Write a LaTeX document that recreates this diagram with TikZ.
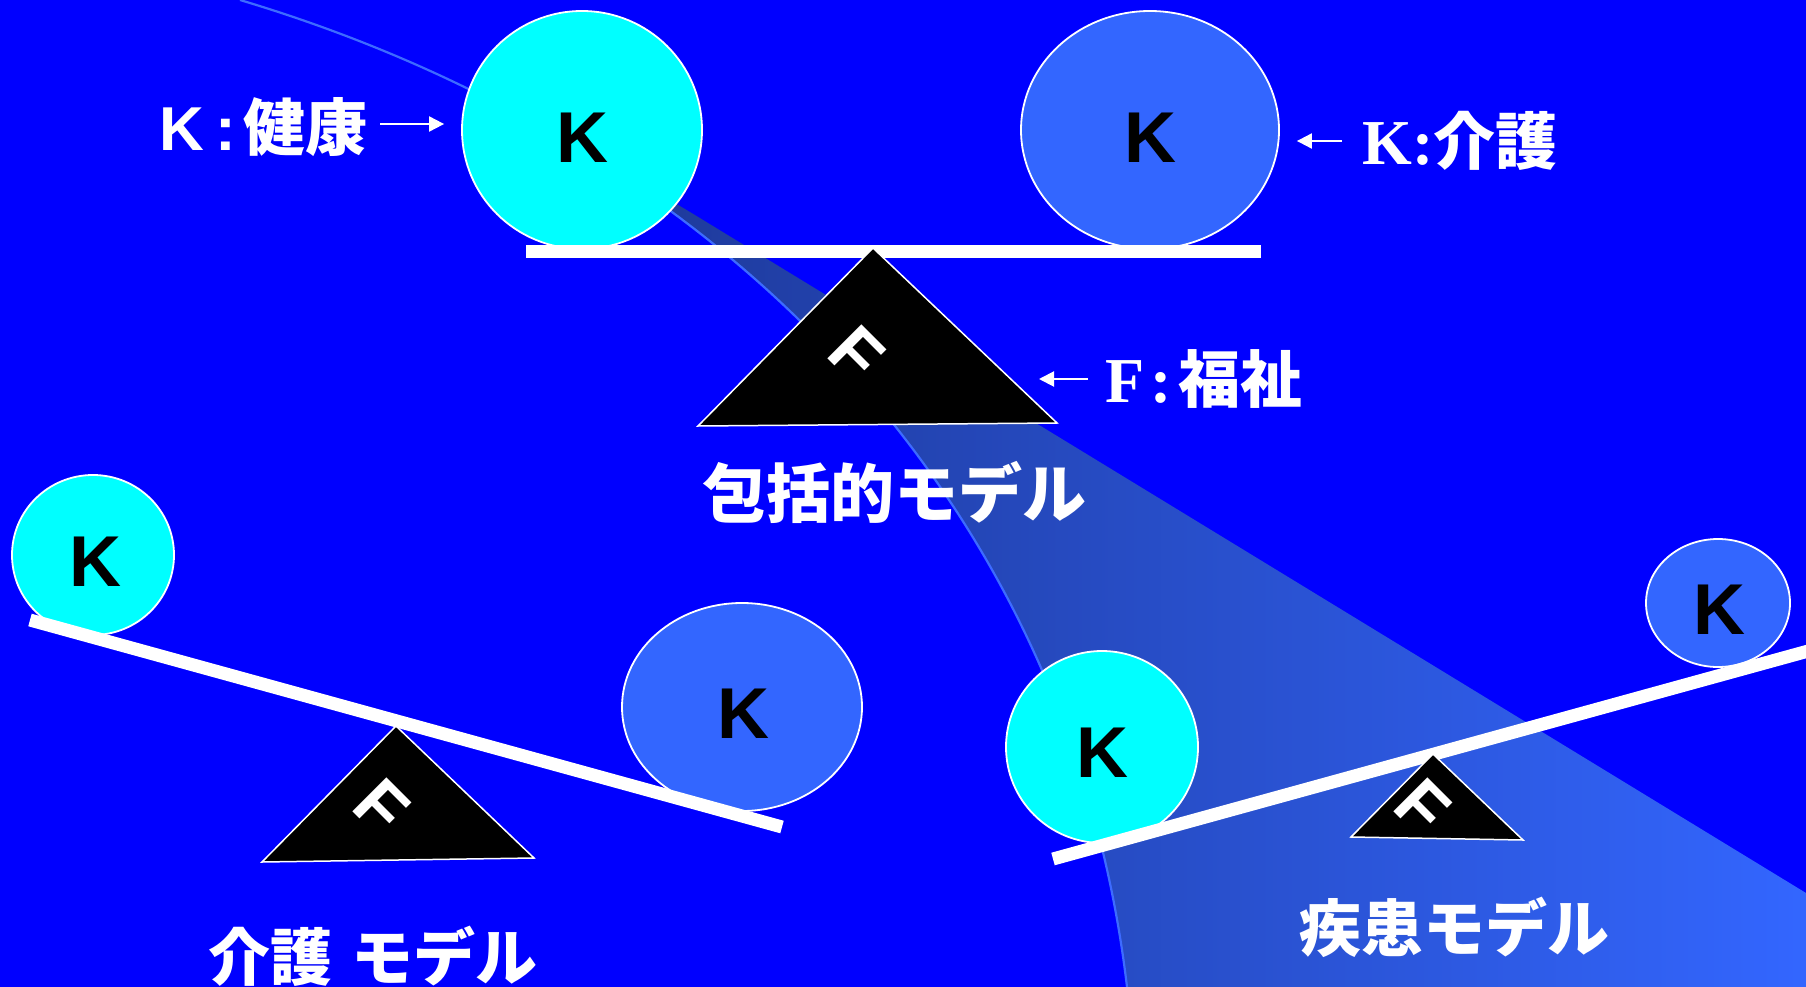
\documentclass[tikz,border=0pt]{standalone}
\usepackage{fontspec}
\setmainfont{Liberation Sans}
\newfontfamily\cjk{Noto Sans CJK JP}
\newfontfamily\serifb{Liberation Serif}
\usetikzlibrary{shapes.geometric,arrows.meta}
\definecolor{bgblue}{HTML}{0000FF}
\definecolor{ballcyan}{HTML}{00FFFF}
\definecolor{ballblue}{HTML}{3366FF}
\definecolor{bandL}{HTML}{1C3590}
\definecolor{bandR}{HTML}{3366FF}
\definecolor{swline}{HTML}{3D6BFF}
\begin{document}
\begin{tikzpicture}[x=1pt,y=-1pt,
  ball/.style={ellipse, draw=white, line width=1.8pt, inner sep=0pt},
  cyanball/.style={ball, fill=ballcyan},
  blueball/.style={ball, fill=ballblue},
  kletter/.style={inner sep=0pt, font=\fontsize{72}{80}\selectfont\bfseries, text=black},
  beam/.style={draw=white, line width=13pt},
  fulcrum/.style={fill=black, draw=white, line width=1.5pt, line join=miter},
  fletter/.style={inner sep=0pt, font=\fontsize{70}{80}\selectfont\bfseries, text=white, rotate=-45},
  lbl/.style={inner sep=0pt, text=white, font=\fontsize{62}{70}\selectfont\bfseries},
  model/.style={inner sep=0pt, text=white, font=\cjk\fontsize{62}{70}\selectfont\bfseries},
  arr/.style={draw=white, line width=2pt, -{Triangle[length=15pt,width=15pt]}}
]
\useasboundingbox (0,0) rectangle (1806,987);
\clip (0,0) rectangle (1806,987);
\fill[bgblue] (0,0) rectangle (1806,987);

% swoosh band
\shade[left color=bandL, right color=bandR]
  (514.2,112.4) .. controls (853.4,294.5) and (1081.4,601.4) .. (1127,987)
  -- (1806,987) -- (1806,893) -- (690,212) -- (560,135) -- cycle;
\draw[swline, line width=2.2pt]
  (240,0) .. controls (728,146) and (1070,505) .. (1127,987);

% balls
\node[cyanball, minimum width=240pt, minimum height=238pt] (c1) at (582,130) {};
\node[blueball, minimum width=258pt, minimum height=238pt] (c2) at (1150,130) {};
\node[cyanball, minimum width=162pt, minimum height=160pt] (c3) at (93,555) {};
\node[blueball, minimum width=240pt, minimum height=208pt] (c4) at (742,707) {};
\node[cyanball, minimum width=192pt, minimum height=192pt] (c5) at (1102,747) {};
\node[blueball, minimum width=144pt, minimum height=128pt] (c6) at (1718,603) {};
\node[kletter] (k1) at (582.5,137.5) {K};
\node[kletter] (k2) at (1150.5,137.5) {K};
\node[kletter] (k3) at (95,562) {K};
\node[kletter] (k4) at (743.5,714) {K};
\node[kletter] (k5) at (1102,753) {K};
\node[kletter] (k6) at (1719,609.5) {K};

% beams
\draw[beam] (526,251.5) -- (1261,251.5);
\draw[beam] (30,620) -- (782,827);
\draw[beam] (1053,859) -- (1830,645);

% fulcrums
\coordinate (t1a) at (873,248); \coordinate (t1l) at (698,426); \coordinate (t1r) at (1057,423);
\coordinate (t2a) at (396,726); \coordinate (t2l) at (262,862); \coordinate (t2r) at (534,858);
\coordinate (t3a) at (1433,754); \coordinate (t3l) at (1351,837); \coordinate (t3r) at (1523,840);
\filldraw[fulcrum] (t1a) -- (t1l) -- (t1r) -- cycle;
\filldraw[fulcrum] (t2a) -- (t2l) -- (t2r) -- cycle;
\filldraw[fulcrum] (t3a) -- (t3l) -- (t3r) -- cycle;
\node[fletter] (f1) at (856.5,354) {F};
\node[fletter] (f2) at (382,807) {F};
\node[fletter] (f3) at (1423,807) {F};

% labels
\node[lbl, anchor=west] (kl) at (159.5,127.5) {K\hspace{11pt}:\hspace{7pt}{\cjk\bfseries 健康}};
\node[lbl, anchor=west] (kr) at (1362,141) {{\serifb\bfseries\fontsize{64}{70}\selectfont K:}{\cjk\bfseries 介護}};
\node[lbl, anchor=west] (fl) at (1105,379) {{\serifb\bfseries\fontsize{64}{70}\selectfont F\hspace{6pt}:}\hspace{7pt}{\cjk\bfseries 福祉}};
\coordinate (t1p) at (1011,379);

\draw[arr] ([xshift=13pt,yshift=3.5pt]kl.east) -- ([xshift=-17pt,yshift=3.5pt]c1.west |- kl.east);
\draw[arr] ([xshift=-20pt]kr.west) -- ([xshift=17pt]c2.east |- kr.west);
\draw[arr] ([xshift=-17pt]fl.west) -- ([xshift=28pt]t1p |- fl.west);

% model names
\node[model, font=\cjk\fontsize{64}{70}\selectfont\bfseries] (m1) at (894.5,492.5) {包括的モデル};
\node[model] (m2) at (1454.5,927.5) {疾患モデル};
\node[model] (m3) at (373,956) {介護\hspace{19pt}モデル};
\end{tikzpicture}
\end{document}
